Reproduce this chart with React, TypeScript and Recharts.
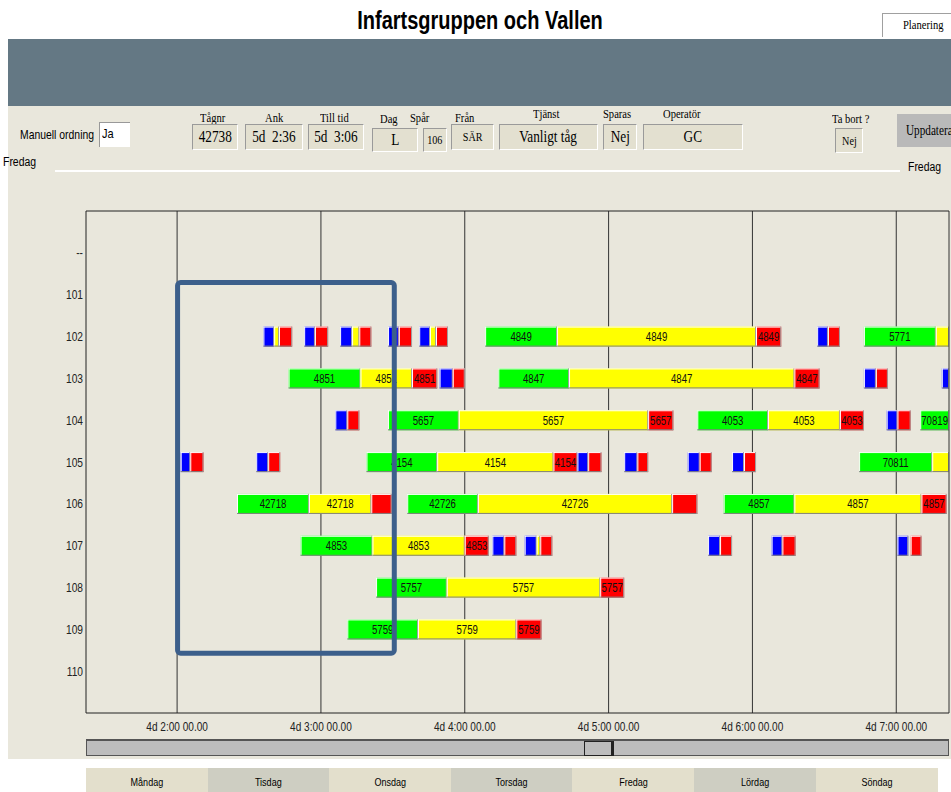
import React from "react";
import {
    ComposedChart, Bar, XAxis, YAxis, CartesianGrid, ReferenceArea, ReferenceLine
} from "recharts";

// [start, end, colour, label] – minutes after 4d 0:00
type Seg = [number, number, string, string?];

const TRACKS = ["--", "101", "102", "103", "104", "105", "106", "107", "108", "109", "110"];

const SEG_102: Seg[] = [
    [156, 160.5, "B"], [160.5, 162.5, "Y"], [162.5, 168, "R"],
    [173, 177.5, "B"], [177.5, 183, "R"],
    [188, 193, "B"], [193, 196, "Y"], [196, 201, "R"],
    [208, 212.5, "B"], [212.5, 218, "R"],
    [221, 225.5, "B"], [225.5, 228, "Y"], [228, 233, "R"],
    [248.5, 278.5, "G", "4849"], [278.5, 361.5, "Y", "4849"], [361.5, 372, "R", "4849"],
    [387, 391.5, "B"], [391.5, 396.5, "R"],
    [406.5, 436.5, "G", "5771"], [436.5, 442, "Y"],
];
const SEG_103: Seg[] = [
    [166.5, 196.5, "G", "4851"], [196.5, 218, "Y", "4851"], [218, 228.5, "R", "4851"],
    [229.5, 235, "B"], [235, 240, "R"],
    [254, 283.5, "G", "4847"], [283.5, 377.5, "Y", "4847"], [377.5, 388, "R", "4847"],
    [406.5, 411.5, "B"], [411.5, 416.5, "R"],
    [439, 442, "B"],
];
const SEG_104: Seg[] = [
    [186, 191, "B"], [191, 196, "R"],
    [208, 237.5, "G", "5657"], [237.5, 316.5, "Y", "5657"], [316.5, 327, "R", "5657"],
    [337, 366.5, "G", "4053"], [366.5, 396.5, "Y", "4053"], [396.5, 406.5, "R", "4053"],
    [416, 420.5, "B"], [420.5, 426, "R"],
    [430, 442, "G", "70819"],
];
const SEG_105: Seg[] = [
    [121.5, 125.5, "B"], [125.5, 131, "R"],
    [153, 158, "B"], [158, 163, "R"],
    [199, 228.5, "G", "4154"], [228.5, 277, "Y", "4154"], [277, 287, "R", "4154"],
    [287, 291.5, "B"], [291.5, 297, "R"],
    [306.5, 312, "B"], [312, 316.5, "R"],
    [333, 338, "B"], [338, 343, "R"],
    [351.5, 356.5, "B"], [356.5, 361.5, "R"],
    [404.5, 435, "G", "70811"], [435, 442, "Y"],
];
const SEG_106: Seg[] = [
    [145, 175, "G", "42718"], [175, 201, "Y", "42718"], [201, 209.5, "R"],
    [216, 245.5, "G", "42726"], [245.5, 326.5, "Y", "42726"], [326.5, 337, "R"],
    [348, 377.5, "G", "4857"], [377.5, 430.5, "Y", "4857"], [430.5, 441, "R", "4857"],
];
const SEG_107: Seg[] = [
    [171.5, 201.5, "G", "4853"], [201.5, 240, "Y", "4853"], [240, 250, "R", "4853"],
    [251.5, 256.5, "B"], [256.5, 261.5, "R"],
    [265, 270, "B"], [270, 271.5, "Y"], [271.5, 276.5, "R"],
    [341.5, 346.5, "B"], [346.5, 351.5, "R"],
    [368, 372.5, "B"], [372.5, 378, "R"],
    [420.5, 425, "B"], [426, 430.5, "R"],
];
const SEG_108: Seg[] = [
    [203, 232.5, "G", "5757"], [232.5, 296.5, "Y", "5757"], [296.5, 306.5, "R", "5757"],
];
const SEG_109: Seg[] = [
    [191, 220.5, "G", "5759"], [220.5, 261.5, "Y", "5759"], [261.5, 272, "R", "5759"],
];

const SEGMENTS: Seg[][] = [[], [], SEG_102, SEG_103, SEG_104, SEG_105, SEG_106, SEG_107, SEG_108, SEG_109, []];

const HOUR_TICKS = [120, 180, 240, 300, 360, 420];
const TOP_TICKS = [108.3, 120, 141.7, 168.3, 180, 201.7, 228.3, 240, 261.7, 288.3, 300, 321.7,
    348.3, 360, 381.7, 408.3, 420, 441.7];
const X_MIN = 82;
const X_MAX = 442;

// highlighted selection (4d 2:00 → ~3:31, tracks 101–110)
const BOX = { x1: 120.2, x2: 210.6, y1: 1.71, y2: 10.57 };

const DAYS = ["Måndag", "Tisdag", "Onsdag", "Torsdag", "Fredag", "Lördag", "Söndag"];

const FIELDS = [
    { label: "Tågnr", value: "42738", lx: 200, ly: 111, x: 192, y: 124, w: 46, h: 26, u: true },
    { label: "Ank", value: "5d  2:36", lx: 265, ly: 111, x: 245, y: 124, w: 58, h: 26, u: true },
    { label: "Till tid", value: "5d  3:06", lx: 320, ly: 111, x: 308, y: 124, w: 56, h: 26, u: true },
    { label: "Dag", value: "L", lx: 380, ly: 112, x: 372, y: 128, w: 46, h: 24 },
    { label: "Spår", value: "106", lx: 410, ly: 111, x: 423, y: 128, w: 24, h: 24, small: true },
    { label: "Från", value: "SÄR", lx: 455, ly: 111, x: 451, y: 124, w: 43, h: 26, small: true },
    { label: "Tjänst", value: "Vanligt tåg", lx: 533, ly: 107, x: 499, y: 124, w: 99, h: 26 },
    { label: "Sparas", value: "Nej", lx: 603, ly: 107, x: 603, y: 124, w: 34, h: 26 },
    { label: "Operatör", value: "GC", lx: 663, ly: 107, x: 643, y: 124, w: 100, h: 26 },
    { label: "Ta bort ?", value: "Nej", lx: 832, ly: 112, x: 835, y: 128, w: 28, h: 25, small: true },
];

const COLORS: Record<string, string> = { G: "#00ff00", Y: "#ffff00", R: "#ff0000", B: "#0000ff" };
const SANS = '"Liberation Sans", Arial, sans-serif';
const SERIF = '"Liberation Serif", "Times New Roman", serif';

const rows = TRACKS.map((t, i) => ({ track: t, pos: i + 1, segs: SEGMENTS[i] }));
const SLOTS = Math.max(...SEGMENTS.map((s) => s.length));

// the original uses a narrow font, so squeeze text horizontally
const Narrow = ({ children, s = 0.82, origin = "left center" }: any) => (
    <span style={{ display: "inline-block", transform: `scaleX(${s})`, transformOrigin: origin, whiteSpace: "pre" }}>
        {children}
    </span>
);

const SegBar = (props: any) => {
    const { x, y, width, height, seg } = props;
    if (!seg || !(width > 0)) return <g />;
    return (
        <g>
            <rect x={x} y={y} width={width} height={height} fill={COLORS[seg[2]]} />
            <line x1={x} y1={y + 0.5} x2={x + width} y2={y + 0.5} stroke="#ffffff" />
            <line x1={x + 0.5} y1={y} x2={x + 0.5} y2={y + height} stroke="#ffffff" />
            <line x1={x} y1={y + height - 0.5} x2={x + width} y2={y + height - 0.5} stroke="#808080" />
            <line x1={x + width - 0.5} y1={y} x2={x + width - 0.5} y2={y + height} stroke="#a0a0a0" />
            {seg[3] && (
                <text transform={`translate(${x + width / 2},${y + height / 2 + 4.5}) scale(0.74,1)`}
                    textAnchor="middle" fontSize={13} fontFamily={SANS} fill="#111">{seg[3]}</text>
            )}
        </g>
    );
};

const fmtHour = (v: number) => `4d  ${Math.floor(v / 60)}:00 00.00`;

const XTick = ({ x, y, payload }: any) => (
    <text transform={`translate(${x},${y + 14}) scale(0.84,1)`} textAnchor="middle" fontSize={12}
        fontFamily={SANS} fill="#222">{fmtHour(payload.value)}</text>
);

const YTick = ({ x, y, payload }: any) => (
    <text transform={`translate(${x},${y + 4.5}) scale(0.85,1)`} textAnchor="end" fontSize={12}
        fontFamily={SANS} fill="#222">{TRACKS[payload.value - 1] ?? ""}</text>
);

export default function App() {
    return (
        <div style={{ position: "relative", width: 951, height: 792, overflow: "hidden", background: "#fff" }}>
            <style>{`body{margin:0;overflow:hidden}`}</style>

            <div style={{ position: "absolute", left: 480, top: 6, fontFamily: SANS, fontWeight: 700, fontSize: 25, color: "#000" }}>
                <span style={{ display: "inline-block", transform: "translateX(-50%) scaleX(0.8)", whiteSpace: "pre" }}>
                    Infartsgruppen och Vallen
                </span>
            </div>
            <div style={{ position: "absolute", left: 882, top: 13, width: 80, height: 24, boxSizing: "border-box", borderTop: "1px solid #a0a0a0", borderLeft: "1px solid #a0a0a0", background: "#fff", fontFamily: SERIF, fontSize: 12, lineHeight: "22px", paddingLeft: 20 }}>
                <Narrow s={0.88}>Planering</Narrow>
            </div>
            <div style={{ position: "absolute", left: 8, top: 39, width: 943, height: 67, background: "#647884" }} />
            <div style={{ position: "absolute", left: 8, top: 106, width: 943, height: 653, background: "#e9e7dc" }} />

            <div style={{ position: "absolute", left: 20, top: 127, fontFamily: SANS, fontSize: 13 }}>
                <Narrow s={0.8}>Manuell ordning</Narrow>
            </div>
            <div style={{ position: "absolute", left: 99, top: 122, width: 31, height: 25, boxSizing: "border-box", background: "#fff", borderTop: "1px solid #999", borderLeft: "1px solid #999", fontFamily: SANS, fontSize: 13, lineHeight: "22px", paddingLeft: 2 }}>
                <Narrow s={0.85}>Ja</Narrow>
            </div>

            {FIELDS.map((f) => (
                <React.Fragment key={f.label}>
                    <div style={{ position: "absolute", left: f.lx, top: f.ly, fontFamily: SERIF, fontSize: 12, textDecoration: f.u ? "underline" : "none" }}>
                        <Narrow s={0.88}>{f.label}</Narrow>
                    </div>
                    <div style={{ position: "absolute", left: f.x, top: f.y, width: f.w, height: f.h, boxSizing: "border-box", background: "#e3e0d0", borderTop: "1px solid #9a9a9a", borderLeft: "1px solid #9a9a9a", borderRight: "1px solid #fff", borderBottom: "1px solid #fff", display: "flex", alignItems: "center", justifyContent: "center", fontFamily: SERIF, fontSize: f.small ? 13 : 17, whiteSpace: "pre" }}>
                        <Narrow s={0.78} origin="center">{f.value}</Narrow>
                    </div>
                </React.Fragment>
            ))}

            <div style={{ position: "absolute", left: 897, top: 114, width: 60, height: 33, background: "#b9b9b9", fontFamily: SERIF, fontSize: 14, lineHeight: "33px", paddingLeft: 9 }}>
                <Narrow s={0.8}>Uppdatera</Narrow>
            </div>

            <div style={{ position: "absolute", left: 3, top: 155, fontFamily: SANS, fontSize: 12 }}>
                <Narrow s={0.87}>Fredag</Narrow>
            </div>
            <div style={{ position: "absolute", left: 55, top: 170, width: 845, height: 2, background: "#fff" }} />
            <div style={{ position: "absolute", left: 908, top: 160, fontFamily: SANS, fontSize: 12 }}>
                <Narrow s={0.87}>Fredag</Narrow>
            </div>

            <div style={{ position: "absolute", left: 0, top: 0 }}>
                <ComposedChart width={951} height={745} data={rows} layout="vertical" barGap={-20}
                    margin={{ top: 205, right: 2, bottom: 0, left: 0 }}>
                    <CartesianGrid horizontal={false} verticalValues={HOUR_TICKS} stroke="#333" strokeWidth={1} />
                    <XAxis type="number" domain={[X_MIN, X_MAX]} allowDataOverflow ticks={HOUR_TICKS}
                        height={32} tickLine={false} tickSize={0} tickMargin={4}
                        axisLine={{ stroke: "#222" }} tick={<XTick />} />
                    <XAxis xAxisId="t" orientation="top" type="number" domain={[X_MIN, X_MAX]} allowDataOverflow
                        ticks={TOP_TICKS} tick={false} height={6} tickSize={4} axisLine={{ stroke: "#222" }}
                        tickLine={{ stroke: "#555" }} />
                    <YAxis type="number" dataKey="pos" domain={[0, 12]} ticks={[1, 2, 3, 4, 5, 6, 7, 8, 9, 10, 11]}
                        width={86} tickLine={false} tickSize={0} tickMargin={3}
                        axisLine={{ stroke: "#222" }} tick={<YTick />} />
                    <ReferenceLine x={X_MAX} stroke="#333" />
                    {Array.from({ length: SLOTS }, (_, k) => (
                        <Bar key={k} barSize={20} isAnimationActive={false}
                            dataKey={(d: any) => (d.segs[k] ? [d.segs[k][0], d.segs[k][1]] : [X_MIN, X_MIN])}
                            shape={(p: any) => <SegBar {...p} seg={p.payload?.segs?.[k]} />} />
                    ))}
                    <ReferenceArea x1={BOX.x1} x2={BOX.x2} y1={BOX.y1} y2={BOX.y2} fill="none" fillOpacity={0}
                        stroke="#3c5f8b" strokeWidth={5} radius={3} zIndex={1000} ifOverflow="visible" />
                </ComposedChart>
            </div>

            <div style={{ position: "absolute", left: 86, top: 739, width: 863, height: 17, boxSizing: "border-box", background: "#bdbdbd", border: "1px solid #555", borderTopWidth: 2 }} />
            <div style={{ position: "absolute", left: 584, top: 741, width: 30, height: 15, boxSizing: "border-box", border: "1px solid #222", borderRightWidth: 3, background: "#bdbdbd" }} />

            {DAYS.map((d, i) => (
                <div key={d} style={{ position: "absolute", left: 86 + i * 121.6, top: 768, width: 122, height: 24, background: i % 2 ? "#cecec2" : "#e3dfcc", fontFamily: SANS, fontSize: 11, textAlign: "center", lineHeight: "28px" }}>
                    <Narrow s={0.82} origin="center">{d}</Narrow>
                </div>
            ))}
        </div>
    );
}
